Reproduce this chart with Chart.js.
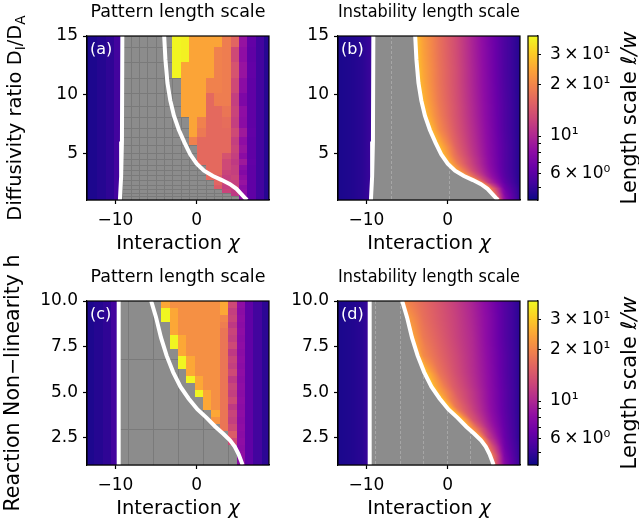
<!DOCTYPE html>
<html lang="en">
<head>
<meta charset="utf-8">
<title>Pattern and instability length scales</title>
<script src="https://cdn.jsdelivr.net/npm/chart.js@4.4.1/dist/chart.umd.min.js"></script>
<style>
  html, body { margin: 0; padding: 0; background: #fff; }
  #fig { position: relative; width: 639px; height: 523px; overflow: hidden; }
  #fig canvas { position: absolute; }
</style>
</head>
<body>
<div id="fig">
  <canvas id="panelA" width="280" height="256" style="left:0;top:0"></canvas>
  <canvas id="panelB" width="232" height="256" style="left:290px;top:0"></canvas>
  <canvas id="panelC" width="280" height="271" style="left:0;top:250px"></canvas>
  <canvas id="panelD" width="232" height="256" style="left:290px;top:265px"></canvas>
  <canvas id="barB" width="119" height="256" style="left:520px;top:0"></canvas>
  <canvas id="barD" width="119" height="256" style="left:520px;top:265px"></canvas>
</div>
<script>
Chart.defaults.font.family = '"DejaVu Sans", sans-serif';
Chart.defaults.color = '#000';

const X_MIN = -13.5;
const X_MAX = 8.9;
const CB_MIN = 4.2;
const CB_MAX = 38.8;

const xTicks = [-10, 0];
const yTicksD = [5, 10, 15];
const yTicksH = [2.5, 5, 7.5, 10];
const cbTicks = [5, 6, 7, 8, 9, 10, 20, 30];
const cbTickLabels = {6: '6\u2009\u00d7\u200910\u2070', 10: '10\u00b9', 20: '2\u2009\u00d7\u200910\u00b9', 30: '3\u2009\u00d7\u200910\u00b9'};

// white stability lines, [chi, y]
const leftLineD = [[-9.15, 15], [-9.2, 6], [-9.3, 3], [-9.45, 1]];
const rightCurveD = [[-4.0, 15], [-3.85, 13], [-3.6, 11], [-3.25, 9.5], [-2.8, 8.2], [-2.2, 7.0], [-1.5, 5.9],
  [-0.8, 4.9], [0.0, 4.1], [0.9, 3.5], [2.0, 3.05], [3.1, 2.7], [4.1, 2.35], [4.9, 1.95], [5.5, 1.5], [5.9, 1.2], [6.2, 1.0]];
const leftLineH = [[-9.6, 10], [-9.6, 1]];
const rightCurveH = [[-5.6, 10], [-5.0, 9.1], [-4.4, 8.0], [-3.7, 7.0], [-2.9, 6.1], [-2.0, 5.3], [-1.0, 4.65],
  [0.1, 4.05], [1.2, 3.6], [2.3, 3.1], [3.3, 2.7], [4.1, 2.35], [4.7, 2.0], [5.15, 1.6], [5.45, 1.25], [5.65, 1.0]];

// (a) pattern length scale vs chi and D_I/D_A
const chiEdgesA = [-14.28, -13.25, -12.23, -11.2, -10.18, -9.15, -8.13, -7.1, -6.08, -5.05, -4.03, -3.0,
  -1.98, -0.95, 0.08, 1.1, 2.13, 3.15, 4.18, 5.2, 6.23, 7.25, 8.28, 9.3];
const dEdgesA = [15, 14.1, 12.75, 11.4, 10.1, 9.0, 8.1, 7.15, 6.42, 5.7, 5.05, 4.48, 3.99, 3.57, 3.14, 2.71, 2.29, 1.92, 1.58, 1.3, 1.0];
const leftValsA = [4.4, 4.5, 4.65, 4.85, 5.3];
const startColA = [11, 11, 11, 12, 12, 12, 13, 13, 13, 14, 14, 14, 15, 15, 15, 16, 16, 17, 18, 19];
const rowValsA = [
  [38, 37, 24.5, 24.5, 24.5, 24.5, 19, 16, 8.5, 6.3, 5.3, 4.7],
  [38, 37, 24.5, 24.5, 24.5, 19.5, 19, 13, 8.2, 6.2, 5.3, 4.7],
  [38, 24.5, 24.5, 24.5, 24.5, 19.5, 19, 14, 8.6, 6.3, 5.3, 4.7],
  [24.5, 24.5, 24.5, 19.5, 19.5, 19, 13, 8, 6.2, 5.3, 4.7],
  [24.5, 24.5, 24.5, 16.5, 19, 19, 12, 7.4, 6.2, 5.3, 4.7],
  [24.5, 24.5, 24.5, 16.5, 16.5, 18, 12.5, 8.2, 6.2, 5.3, 4.7],
  [24.5, 19.5, 16.5, 16.5, 17, 12, 8, 6.2, 5.3, 4.7],
  [24.5, 18.5, 16.5, 16.5, 16.5, 13, 9, 6.3, 5.3, 4.7],
  [19.5, 16.5, 16.5, 16.5, 16.5, 12, 8.2, 6.2, 5.3, 4.7],
  [16.5, 16.5, 16.5, 16.5, 12.5, 8.6, 6.2, 5.3, 4.7],
  [16.5, 16.5, 16.5, 14, 12, 8, 6.2, 5.3, 4.7],
  [16.5, 16.5, 16.5, 13, 11.5, 9, 6.3, 5.3, 4.7],
  [16.5, 16.5, 13, 12, 8, 6.2, 5.3, 4.7],
  [16.5, 16.5, 12.5, 12, 7.6, 6.2, 5.3, 4.7],
  [16.5, 15, 12, 12.5, 8.2, 6.2, 5.3, 4.7],
  [16, 12.5, 12, 8.6, 6.2, 5.3, 4.7],
  [15, 12, 12.5, 8, 6.2, 5.3, 4.7],
  [12.5, 11.5, 8.2, 6.2, 5.3, 4.7],
  [11.5, 8, 6.2, 5.3, 4.7],
  [8.2, 6.2, 5.3, 4.7],
];

// (c) pattern length scale vs chi and h
const chiEdgesC = [-14.66, -13.63, -12.6, -11.57, -10.54, -9.51, -8.48, -7.45, -6.42, -5.39, -4.36, -3.33,
  -2.3, -1.27, -0.24, 0.79, 1.82, 2.85, 3.88, 4.91, 5.94, 6.97, 8.0, 9.03];
const hEdgesC = [10, 9.625, 9.25, 8.875, 8.5, 8.125, 7.75, 7.375, 7.0, 6.625, 6.25, 5.875, 5.5,
  5.125, 4.75, 4.375, 4.0, 3.625, 3.25, 2.875, 2.5, 2.125, 1.75, 1.375, 1.0];
const leftValsC = [4.4, 4.5, 4.65, 4.85, 5.3];
const startColC = [10, 10, 10, 11, 11, 11, 11, 12, 12, 12, 13, 13, 14, 14, 15, 15, 16, 16, 17, 18, 18, 19, 19, 19];
const rowValsC = [
  [25, 21.5, 21.5, 21.5, 21.5, 21.5, 21.5, 25, 13, 8.2, 6.2, 5.3, 4.8],
  [38, 25, 21.5, 21.5, 21.5, 21.5, 21.5, 25, 12, 8, 6.2, 5.3, 4.8],
  [38, 25, 21.5, 21.5, 21.5, 21.5, 21.5, 20, 12.5, 8.2, 6.2, 5.3, 4.8],
  [25, 21.5, 21.5, 21.5, 21.5, 21.5, 19, 11.5, 8, 6.2, 5.3, 4.8],
  [25, 21.5, 21.5, 21.5, 21.5, 21.5, 18, 12.5, 8.2, 6.2, 5.3, 4.8],
  [38, 25, 21.5, 21.5, 21.5, 21.5, 18, 12, 8, 6.2, 5.3, 4.8],
  [38, 25, 21.5, 21.5, 21.5, 21.5, 18, 13, 8.2, 6.2, 5.3, 4.8],
  [25, 21.5, 21.5, 21.5, 21.5, 18, 11.5, 8, 6.2, 5.3, 4.8],
  [38, 25, 21.5, 21.5, 21.5, 18, 12.5, 8.2, 6.2, 5.3, 4.8],
  [38, 25, 21.5, 21.5, 21.5, 18, 12, 8, 6.2, 5.3, 4.8],
  [25, 21.5, 21.5, 21.5, 18, 13, 8.2, 6.2, 5.3, 4.8],
  [38, 25, 21.5, 21.5, 18, 11.5, 8, 6.2, 5.3, 4.8],
  [25, 21.5, 21.5, 18, 12.5, 8.2, 6.2, 5.3, 4.8],
  [38, 25, 21.5, 18, 12, 8, 6.2, 5.3, 4.8],
  [25, 21.5, 18, 13, 8.2, 6.2, 5.3, 4.8],
  [25, 21.5, 18, 11.5, 8, 6.2, 5.3, 4.8],
  [25, 18, 12.5, 8.2, 6.2, 5.3, 4.8],
  [22, 18, 12, 8, 6.2, 5.3, 4.8],
  [18, 13, 8.2, 6.2, 5.3, 4.8],
  [15, 8, 6.2, 5.3, 4.8],
  [13, 8.2, 6.2, 5.3, 4.8],
  [8, 6.2, 5.3, 4.8],
  [8.2, 6.2, 5.3, 4.8],
  [8, 6.2, 5.3, 4.8],
];
const gridChiC = [-8.48, -5.39, -2.3, 0.79, 3.88];
const gridHC = [6.8, 3.0];

// (b) instability length scale, sampled rows of D_I/D_A
const rowsB = [15, 12, 9, 7, 5.5, 4.5, 3.6, 3.0, 2.5, 2.0, 1.5, 1.0];
const colsB = [-3, -1, 1, 3, 5, 7, 9];
const edgeB = [29.5, 29.5, 29.5, 29.5, 29.5, 29.5, 29.5, 29.5, 28.2, 25.8, 22.1, 18.9];
const valsB = [
  [23.6, 17.3, 13.3, 9.72, 7.3, 5.6, 4.58],
  [24.7, 17.7, 13.6, 9.94, 7.46, 5.6, 4.58],
  [27.8, 18.5, 13.9, 10.2, 7.63, 5.72, 4.58],
  [null, 20.7, 14.5, 10.6, 7.8, 5.72, 4.58],
  [null, 28.2, 15.9, 11.1, 7.97, 5.85, 4.58],
  [null, null, 18.1, 11.9, 8.15, 5.85, 4.58],
  [null, null, 24.7, 13.3, 8.52, 5.85, 4.58],
  [null, null, null, 18.1, 9.3, 5.98, 4.58],
  [null, null, null, null, 11.4, 6.25, 4.58],
  [null, null, null, null, 22.1, 6.83, 4.68],
  [null, null, null, null, null, 7.46, 4.68],
  [null, null, null, null, null, 8.15, 4.68],
];
const leftChiB = [-13.5, -12, -10.5, -9.2];
const leftValsB = [4.45, 4.55, 4.75, 5.2];
const dashChiB = [-6.98, 0.2];

// (d) instability length scale, sampled rows of h
const rowsD = [10, 9, 8, 7, 6, 5, 4.2, 3.5, 3.0, 2.5, 2.0, 1.5, 1.0];
const colsD = [-5, -3, -1, 1, 3, 5, 7, 9];
const edgeD = [21.6, 23.6, 25.8, 28.2, 30.8, 32.9, 32.9, 32.2, 30.8, 29.5, 27.0, 22.1, 17.7];
const valsD = [
  [19.8, 16.6, 14.2, 11.9, 9.72, 7.63, 5.85, 4.68],
  [null, 17.3, 14.5, 12.2, 9.94, 7.8, 5.85, 4.68],
  [null, 18.5, 15.2, 12.4, 10.2, 7.8, 5.85, 4.68],
  [null, 20.7, 16.2, 13.0, 10.4, 7.97, 5.98, 4.68],
  [null, null, 18.1, 13.6, 10.6, 8.15, 5.98, 4.68],
  [null, null, 24.7, 15.2, 11.4, 8.33, 6.11, 4.68],
  [null, null, null, 18.1, 12.2, 8.52, 6.11, 4.68],
  [null, null, null, null, 14.5, 9.1, 6.25, 4.68],
  [null, null, null, null, 22.1, 10.2, 6.39, 4.68],
  [null, null, null, null, null, 12.2, 6.53, 4.68],
  [null, null, null, null, null, 17.7, 6.83, 4.79],
  [null, null, null, null, null, null, 7.3, 4.79],
  [null, null, null, null, null, null, 7.8, 4.9],
];
const leftChiD = [-13.5, -12, -10.5, -9.6];
const leftValsD = [4.45, 4.55, 4.75, 5.2];
const dashChiD = [-8.95, -5.87, -3.0, -0.1, 2.75];

const GRAY = '#8c8c8c';
const LINE_GRAY = '#7a7a7a';
const DASH_GRAY = '#a6a6a6';

const PLASMA = [[13, 8, 135], [65, 4, 157], [106, 0, 168], [143, 13, 164], [177, 42, 144], [204, 71, 120],
  [225, 100, 98], [242, 132, 75], [252, 166, 54], [252, 206, 37], [240, 249, 33]];

const plasma = (t) => {
  t = Math.min(1, Math.max(0, t));
  const p = t * 10;
  const i = Math.min(9, Math.floor(p));
  const f = p - i;
  const a = PLASMA[i];
  const b = PLASMA[i + 1];
  return [0, 1, 2].map((k) => Math.round(a[k] + (b[k] - a[k]) * f));
};
const normLog = (lv) => (lv - Math.log(CB_MIN)) / Math.log(CB_MAX / CB_MIN);
const colorOf = (v) => {
  const c = plasma(normLog(Math.log(v)));
  return `rgb(${c[0]},${c[1]},${c[2]})`;
};

// chi of a line at a given y (lines run from top to bottom)
const chiAt = (line, yv) => {
  if (yv >= line[0][1]) {
    return line[0][0];
  }
  for (let i = 1; i < line.length; i++) {
    const [x0, y0] = line[i - 1];
    const [x1, y1] = line[i];
    if (yv >= y1) {
      return x0 + (x1 - x0) * (y0 - yv) / (y0 - y1);
    }
  }
  return line[line.length - 1][0];
};

const lerpPts = (pts, s) => {
  if (s <= pts[0][0]) {
    return pts[0][1];
  }
  for (let k = 1; k < pts.length; k++) {
    if (s <= pts[k][0]) {
      const f = (s - pts[k - 1][0]) / (pts[k][0] - pts[k - 1][0]);
      return pts[k - 1][1] + f * (pts[k][1] - pts[k - 1][1]);
    }
  }
  return pts[pts.length - 1][1];
};

// mixed-size text (sub/superscripts, italic math), centred on cx, cy
const drawRich = (ctx, parts, cx, cy, size, angle) => {
  const fontOf = (p) => `${p[3] ? 'italic ' : ''}${size * p[1]}px "DejaVu Sans"`;
  ctx.save();
  ctx.translate(cx, cy);
  ctx.rotate(angle);
  ctx.fillStyle = '#000';
  ctx.textBaseline = 'alphabetic';
  ctx.textAlign = 'left';
  let total = 0;
  parts.forEach((p) => {
    ctx.font = fontOf(p);
    total += ctx.measureText(p[0]).width;
  });
  let pos = -total / 2;
  parts.forEach((p) => {
    ctx.font = fontOf(p);
    ctx.fillText(p[0], pos, size * 0.36 + p[2] * size);
    pos += ctx.measureText(p[0]).width;
  });
  ctx.restore();
};

// discrete cells, gray where no pattern formed
const cellPlugin = (spec) => ({
  id: 'cells',
  beforeDatasetsDraw(chart) {
    const {ctx, chartArea: a, scales: {x, y}} = chart;
    ctx.save();
    ctx.beginPath();
    ctx.rect(a.left, a.top, a.right - a.left, a.bottom - a.top);
    ctx.clip();
    ctx.fillStyle = GRAY;
    ctx.fillRect(a.left, a.top, a.right - a.left, a.bottom - a.top);
    ctx.strokeStyle = LINE_GRAY;
    ctx.lineWidth = 1;
    spec.gridX.forEach((v) => {
      const p = Math.round(x.getPixelForValue(v)) + 0.5;
      ctx.beginPath();
      ctx.moveTo(p, a.top);
      ctx.lineTo(p, a.bottom);
      ctx.stroke();
    });
    spec.gridY.forEach((v) => {
      const p = Math.round(y.getPixelForValue(v)) + 0.5;
      ctx.beginPath();
      ctx.moveTo(a.left, p);
      ctx.lineTo(a.right, p);
      ctx.stroke();
    });
    const xs = spec.cols.map((v) => Math.round(x.getPixelForValue(v)));
    const ys = spec.rows.map((v) => Math.round(y.getPixelForValue(v)));
    const cell = (c, r, v) => {
      ctx.fillStyle = colorOf(v);
      ctx.fillRect(xs[c], ys[r], xs[c + 1] - xs[c], ys[r + 1] - ys[r]);
    };
    for (let r = 0; r < spec.rows.length - 1; r++) {
      spec.left.forEach((v, c) => cell(c, r, v));
      spec.vals[r].forEach((v, k) => cell(spec.start[r] + k, r, v));
    }
    ctx.restore();
  },
});

// smooth field right of the curve, rows blended along the stable strip
const fieldPlugin = (spec) => ({
  id: 'field',
  beforeDatasetsDraw(chart) {
    const {ctx, chartArea: a, scales: {x, y}} = chart;
    const xEnd = spec.cols[spec.cols.length - 1];
    ctx.save();
    ctx.fillStyle = GRAY;
    ctx.fillRect(a.left, a.top, a.right - a.left, a.bottom - a.top);
    ctx.strokeStyle = DASH_GRAY;
    ctx.lineWidth = 1;
    ctx.setLineDash([3, 2]);
    spec.dash.forEach((v) => {
      const p = Math.round(x.getPixelForValue(v)) + 0.5;
      ctx.beginPath();
      ctx.moveTo(p, a.top);
      ctx.lineTo(p, a.bottom);
      ctx.stroke();
    });
    ctx.setLineDash([]);

    const profiles = spec.rows.map((yv, r) => {
      const xb = chiAt(spec.right, yv);
      const pts = [[0, Math.log(spec.edge[r])]];
      spec.cols.forEach((c, j) => {
        const v = spec.vals[r][j];
        if (v !== null && c > xb) {
          pts.push([(c - xb) / (xEnd - xb), Math.log(v)]);
        }
      });
      return pts;
    });
    const leftPts = spec.leftChi.map((c, j) => [c, Math.log(spec.leftVals[j])]);

    const w = Math.round(a.right - a.left);
    const h = Math.round(a.bottom - a.top);
    const off = document.createElement('canvas');
    off.width = w;
    off.height = h;
    const octx = off.getContext('2d');
    const img = octx.createImageData(w, h);
    for (let j = 0; j < h; j++) {
      const yv = y.getValueForPixel(a.top + j + 0.5);
      const xl = chiAt(spec.left, yv);
      const xr = chiAt(spec.right, yv);
      let r = 0;
      while (r < spec.rows.length - 2 && yv < spec.rows[r + 1]) {
        r++;
      }
      const f = Math.min(1, Math.max(0, (spec.rows[r] - yv) / (spec.rows[r] - spec.rows[r + 1])));
      for (let i = 0; i < w; i++) {
        const chi = x.getValueForPixel(a.left + i + 0.5);
        let lv;
        if (chi < xl) {
          lv = lerpPts(leftPts, chi);
        } else if (chi > xr) {
          const s = (chi - xr) / (xEnd - xr);
          lv = (1 - f) * lerpPts(profiles[r], s) + f * lerpPts(profiles[r + 1], s);
        } else {
          continue;
        }
        const c = plasma(normLog(lv));
        const o = (j * w + i) * 4;
        img.data[o] = c[0];
        img.data[o + 1] = c[1];
        img.data[o + 2] = c[2];
        img.data[o + 3] = 255;
      }
    }
    octx.putImageData(img, 0, 0);
    ctx.drawImage(off, Math.round(a.left), Math.round(a.top));
    ctx.restore();
  },
});

// spines, panel letter and the x label with an italic chi
const framePlugin = (letter, extra) => ({
  id: 'frame',
  afterDatasetsDraw(chart) {
    const {ctx, chartArea: a} = chart;
    ctx.save();
    ctx.strokeStyle = '#000';
    ctx.lineWidth = 1.2;
    ctx.strokeRect(a.left, a.top, a.right - a.left, a.bottom - a.top);
    ctx.fillStyle = '#fff';
    ctx.font = '16px "DejaVu Sans"';
    ctx.textBaseline = 'middle';
    ctx.textAlign = 'left';
    ctx.fillText(letter, a.left + 3, a.top + 14);
    ctx.restore();
    drawRich(ctx, [['Interaction ', 1, 0], ['\u03c7', 1, 0, true]], (a.left + a.right) / 2, a.bottom + 42, 19.5, 0);
    if (extra) {
      extra(chart);
    }
  },
});

const curveSets = (left, right) => {
  const style = {showLine: true, borderColor: '#fff', borderWidth: 4, pointRadius: 0, tension: 0, clip: 0};
  const toPts = (line) => line.map(([cx, cy]) => ({x: cx, y: cy}));
  return [Object.assign({data: toPts(left)}, style), Object.assign({data: toPts(right)}, style)];
};

const tickFont = {size: 17};
const minus = (v) => (v < 0 ? '\u2212' + Math.abs(v) : String(v));

const axisX = () => ({
  type: 'linear',
  min: X_MIN,
  max: X_MAX,
  afterBuildTicks: (s) => {
    s.ticks = xTicks.map((v) => ({value: v}));
  },
  afterFit: (s) => {
    s.height = 56;
  },
  ticks: {font: tickFont, padding: 6, maxRotation: 0, autoSkip: false, callback: (v) => minus(v)},
  grid: {drawOnChartArea: false, drawTicks: true, tickLength: 4, tickColor: '#000', tickWidth: 1.2},
  border: {display: true, color: '#000', width: 1.2},
  title: {display: false},
});

const axisY = (min, max, ticks, fmt, width, title) => ({
  type: 'linear',
  min,
  max,
  afterBuildTicks: (s) => {
    s.ticks = ticks.map((v) => ({value: v}));
  },
  afterFit: (s) => {
    s.width = width;
  },
  ticks: {font: tickFont, padding: 5, autoSkip: false, callback: fmt},
  grid: {drawOnChartArea: false, drawTicks: true, tickLength: 4, tickColor: '#000', tickWidth: 1.2},
  border: {display: true, color: '#000', width: 1.2},
  title: title ? {display: true, text: title, font: {size: 20.5}, padding: {top: 1.7, bottom: 0}} : {display: false},
});

const panelOptions = (title, titleTop, x, y, padRight) => ({
  responsive: false,
  animation: false,
  events: [],
  devicePixelRatio: 1,
  layout: {padding: {left: 0, top: 0, right: padRight, bottom: 0}},
  plugins: {
    legend: {display: false},
    tooltip: {enabled: false},
    title: {display: true, text: title, fullSize: false, font: {size: 17.5, weight: 'normal'}, color: '#000',
      padding: {top: titleTop, bottom: 13}},
  },
  scales: {x, y},
});

const yLabelD = (chart) => {
  const a = chart.chartArea;
  drawRich(chart.ctx, [['Diffusivity ratio D', 1, 0], ['I', 0.7, 0.22], ['/D', 1, 0], ['A', 0.7, 0.22]],
    14, (a.top + a.bottom) / 2, 19.5, -Math.PI / 2);
};

new Chart(document.getElementById('panelA'), {
  type: 'scatter',
  data: {datasets: curveSets(leftLineD, rightCurveD)},
  options: panelOptions('Pattern length scale', 2, axisX(), axisY(1, 15, yTicksD, (v) => String(v), 87, null), 11),
  plugins: [
    cellPlugin({cols: chiEdgesA, rows: dEdgesA, left: leftValsA, start: startColA, vals: rowValsA, gridX: chiEdgesA, gridY: dEdgesA}),
    framePlugin('(a)', yLabelD),
  ],
});

new Chart(document.getElementById('panelB'), {
  type: 'scatter',
  data: {datasets: curveSets(leftLineD, rightCurveD)},
  options: panelOptions('Instability length scale', 2, axisX(), axisY(1, 15, yTicksD, (v) => String(v), 48, null), 2),
  plugins: [
    fieldPlugin({rows: rowsB, cols: colsB, edge: edgeB, vals: valsB, left: leftLineD, right: rightCurveD,
      leftChi: leftChiB, leftVals: leftValsB, dash: dashChiB}),
    framePlugin('(b)'),
  ],
});

new Chart(document.getElementById('panelC'), {
  type: 'scatter',
  data: {datasets: curveSets(leftLineH, rightCurveH)},
  options: panelOptions('Pattern length scale', 17, axisX(),
    axisY(1, 10, yTicksH, (v) => v.toFixed(1), 87, 'Reaction Non\u2212linearity h'), 11),
  plugins: [
    cellPlugin({cols: chiEdgesC, rows: hEdgesC, left: leftValsC, start: startColC, vals: rowValsC, gridX: gridChiC, gridY: gridHC}),
    framePlugin('(c)'),
  ],
});

new Chart(document.getElementById('panelD'), {
  type: 'scatter',
  data: {datasets: curveSets(leftLineH, rightCurveH)},
  options: panelOptions('Instability length scale', 2, axisX(), axisY(1, 10, yTicksH, (v) => v.toFixed(1), 48, null), 2),
  plugins: [
    fieldPlugin({rows: rowsD, cols: colsD, edge: edgeD, vals: valsD, left: leftLineH, right: rightCurveH,
      leftChi: leftChiD, leftVals: leftValsD, dash: dashChiD}),
    framePlugin('(d)'),
  ],
});

const colorbarPlugin = {
  id: 'colorbar',
  beforeDatasetsDraw(chart) {
    const {ctx, chartArea: a, scales: {y}} = chart;
    for (let py = Math.round(a.top); py < a.bottom; py++) {
      ctx.fillStyle = colorOf(y.getValueForPixel(py + 0.5));
      ctx.fillRect(a.left, py, a.right - a.left, 1);
    }
  },
  afterDatasetsDraw(chart) {
    const {ctx, chartArea: a} = chart;
    ctx.save();
    ctx.strokeStyle = '#000';
    ctx.lineWidth = 1.2;
    ctx.strokeRect(a.left, a.top, a.right - a.left, a.bottom - a.top);
    ctx.restore();
    drawRich(ctx, [['Length scale ', 1, 0], ['\u2113/w', 1, 0, true]], 108.4, (a.top + a.bottom) / 2, 21, -Math.PI / 2);
  },
};

const colorbar = (id) => new Chart(document.getElementById(id), {
  type: 'scatter',
  data: {datasets: []},
  options: {
    responsive: false,
    animation: false,
    events: [],
    devicePixelRatio: 1,
    layout: {padding: {left: 8, top: 36, right: 0, bottom: 56}},
    plugins: {legend: {display: false}, tooltip: {enabled: false}},
    scales: {
      x: {display: false},
      y: {
        type: 'logarithmic',
        position: 'right',
        min: CB_MIN,
        max: CB_MAX,
        afterBuildTicks: (s) => {
          s.ticks = cbTicks.map((v) => ({value: v}));
        },
        afterFit: (s) => {
          s.width = 101;
        },
        ticks: {font: tickFont, padding: 9, autoSkip: false, callback: (v) => cbTickLabels[v] || ''},
        grid: {drawOnChartArea: false, drawTicks: true, tickLength: 3, tickColor: '#000', tickWidth: 1},
        border: {display: true, color: '#000', width: 1.2},
      },
    },
  },
  plugins: [colorbarPlugin],
});

colorbar('barB');
colorbar('barD');
</script>
</body>
</html>
